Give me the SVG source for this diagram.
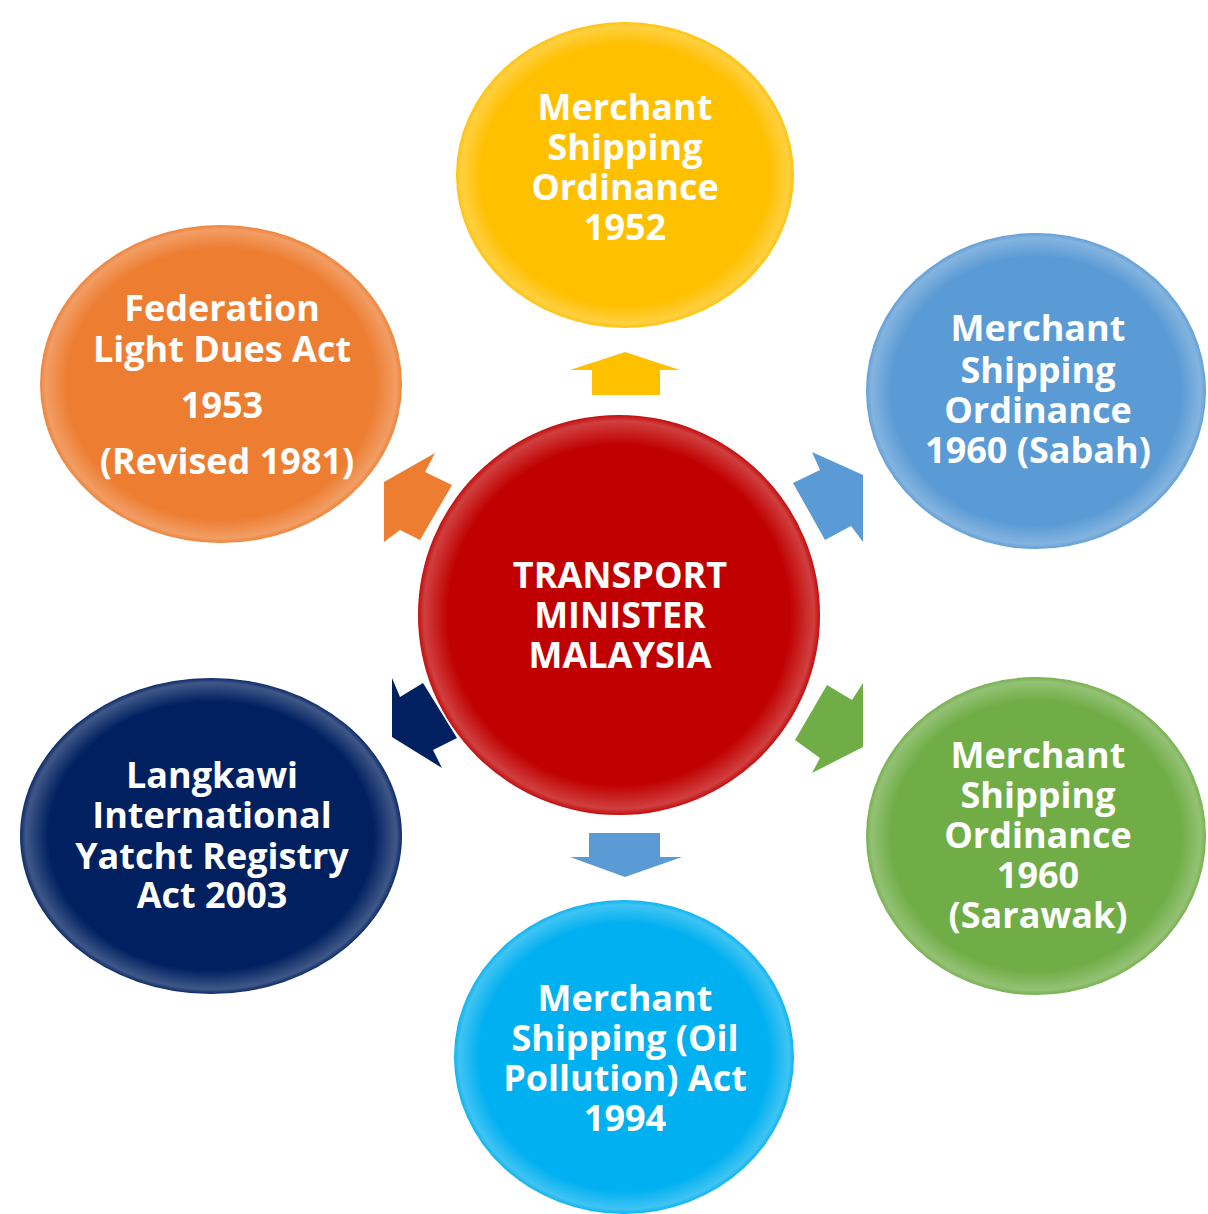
<svg xmlns="http://www.w3.org/2000/svg" width="1208" height="1214" viewBox="0 0 1208 1214">
<defs>
<radialGradient id="gloss" cx="0.5" cy="0.5" r="0.5">
<stop offset="0.85" stop-color="#fff" stop-opacity="0"/>
<stop offset="0.97" stop-color="#fff" stop-opacity="0.25"/>
<stop offset="1" stop-color="#fff" stop-opacity="0.05"/>
</radialGradient>
<style>
.t{font-family:"Open Sans","DejaVu Sans",sans-serif;font-weight:bold;font-size:36px;fill:#fff;text-anchor:middle}
.g{fill:url(#gloss)}
</style>
</defs>
<rect width="1208" height="1214" fill="#fff"/>
<g id="connectors">
<polygon points="592,395 592,370 570,370 625,352 680,370 660,370 660,395" fill="#FFC000"/>
<polygon points="589,833 660,833 660,857 682,857 625,877 570,857 589,857" fill="#5B9BD5"/>
<polygon points="793,483 820,470 812,452 863,475 863,542 851,526 825,540" fill="#5B9BD5"/>
<polygon points="384,482 435,453 425,472 452,485 420,540 400,530 384,542" fill="#ED7D31"/>
<polygon points="392,678 400,697 423,683 457,738 433,750 442,768 392,737" fill="#002060"/>
<polygon points="863,683 852,700 827,685 795,740 820,758 812,773 863,747" fill="#70AD47"/>
</g>
<g id="node-yellow">
<ellipse cx="625" cy="175" rx="169" ry="153" fill="#FFC000"/>
<ellipse cx="625" cy="175" rx="169" ry="153" class="g"/>
<text class="t"><tspan x="625" y="120">Merchant</tspan><tspan x="625" y="160">Shipping</tspan><tspan x="625" y="200">Ordinance</tspan><tspan x="625" y="240">1952</tspan></text>
</g>
<g id="node-blue">
<ellipse cx="1036" cy="391" rx="170" ry="158" fill="#5B9BD5"/>
<ellipse cx="1036" cy="391" rx="170" ry="158" class="g"/>
<text class="t"><tspan x="1038" y="341">Merchant</tspan><tspan x="1038" y="383">Shipping</tspan><tspan x="1038" y="423">Ordinance</tspan><tspan x="1038" y="463">1960 (Sabah)</tspan></text>
</g>
<g id="node-green">
<ellipse cx="1036" cy="836" rx="170" ry="159" fill="#70AD47"/>
<ellipse cx="1036" cy="836" rx="170" ry="159" class="g"/>
<text class="t"><tspan x="1038" y="768">Merchant</tspan><tspan x="1038" y="808">Shipping</tspan><tspan x="1038" y="848">Ordinance</tspan><tspan x="1038" y="888">1960</tspan><tspan x="1038" y="928">(Sarawak)</tspan></text>
</g>
<g id="node-cyan">
<ellipse cx="624" cy="1057" rx="170" ry="157" fill="#00B0F0"/>
<ellipse cx="624" cy="1057" rx="170" ry="157" class="g"/>
<text class="t"><tspan x="625" y="1011">Merchant</tspan><tspan x="625" y="1051">Shipping (Oil</tspan><tspan x="625" y="1091">Pollution) Act</tspan><tspan x="625" y="1131">1994</tspan></text>
</g>
<g id="node-navy">
<ellipse cx="211" cy="836" rx="191" ry="158" fill="#002060"/>
<ellipse cx="211" cy="836" rx="191" ry="158" class="g"/>
<text class="t"><tspan x="212" y="788">Langkawi</tspan><tspan x="212" y="828">International</tspan><tspan x="212" y="869">Yatcht Registry</tspan><tspan x="212" y="908">Act 2003</tspan></text>
</g>
<g id="node-orange">
<ellipse cx="221" cy="384" rx="181" ry="159" fill="#ED7D31"/>
<ellipse cx="221" cy="384" rx="181" ry="159" class="g"/>
<text class="t"><tspan x="222" y="321">Federation</tspan><tspan x="222" y="362">Light Dues Act</tspan><tspan x="222" y="418">1953</tspan><tspan x="227" y="474">(Revised 1981)</tspan></text>
</g>
<g id="node-center">
<ellipse cx="619" cy="615" rx="201" ry="200" fill="#C00000"/>
<ellipse cx="619" cy="615" rx="201" ry="200" class="g"/>
<text class="t"><tspan x="620" y="588">TRANSPORT</tspan><tspan x="620" y="628">MINISTER</tspan><tspan x="620" y="668">MALAYSIA</tspan></text>
</g>
</svg>
